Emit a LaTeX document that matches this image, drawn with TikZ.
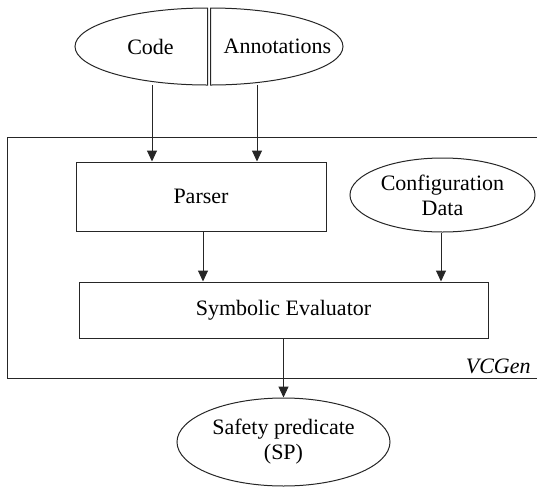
\documentclass[tikz,border=0pt]{standalone}
\usepackage{fontspec}
\setmainfont{Liberation Serif}
\usetikzlibrary{shapes.geometric,arrows.meta}

\tikzset{
  outline/.style={draw=black!85, line width=0.5pt},
  label/.style={font=\fontsize{11}{12.5}\selectfont, align=center, inner sep=0pt},
  procbox/.style={outline, label, rectangle},
  databubble/.style={outline, label, ellipse},
  arr/.style={draw=black!85, line width=0.5pt, -{Triangle[width=5pt,length=5.5pt]}}
}

\begin{document}
\begin{tikzpicture}[x=0.5pt, y=-0.5pt]
  \useasboundingbox (0,0) rectangle (537,489);

  % input split bubble: code | annotations
  \draw[outline] (207.5,8) arc[start angle=90, end angle=270,
      x radius=66.25pt, y radius=19.25pt] -- cycle;
  \draw[outline] (210.5,8) arc[start angle=90, end angle=-90,
      x radius=66.25pt, y radius=19.25pt] -- cycle;
  \node[label] (code) at (150.5,46.5) {Code};
  \node[label] (annot) at (277.5,46.5) {Annotations};
  \coordinate (codeout) at (152,85);
  \coordinate (annotout) at (257,85);

  % VCGen frame, open to the right edge
  \draw[outline] (537,137) -- (7,137) -- (7,378) -- (537,378);
  \node[label, font=\fontsize{11}{12.5}\selectfont\itshape, anchor=east]
      (vcgen) at (531,366) {VCGen};

  % components
  \node[procbox, minimum width=125pt, minimum height=34.5pt]
      (parser) at (201,196.5) {Parser};
  \node[databubble, minimum width=92.5pt, minimum height=37pt]
      (config) at (442.5,195) {Configuration\\Data};
  \node[procbox, minimum width=204.5pt, minimum height=28pt]
      (symeval) at (283.5,310) {Symbolic Evaluator};
  \node[databubble, minimum width=106.5pt, minimum height=44pt]
      (safety) at (283.5,442) {Safety predicate\\(SP)};

  % data flow
  \draw[arr] (codeout) -- (codeout |- parser.north);
  \draw[arr] (annotout) -- (annotout |- parser.north);
  \coordinate (parserout) at (203,0);
  \draw[arr] (parserout |- parser.south) -- (parserout |- symeval.north);
  \coordinate (configout) at (441,0);
  \draw[arr] (configout |- config.south) -- (configout |- symeval.north);
  \draw[arr] (symeval.south) -- (safety.north);
\end{tikzpicture}
\end{document}
